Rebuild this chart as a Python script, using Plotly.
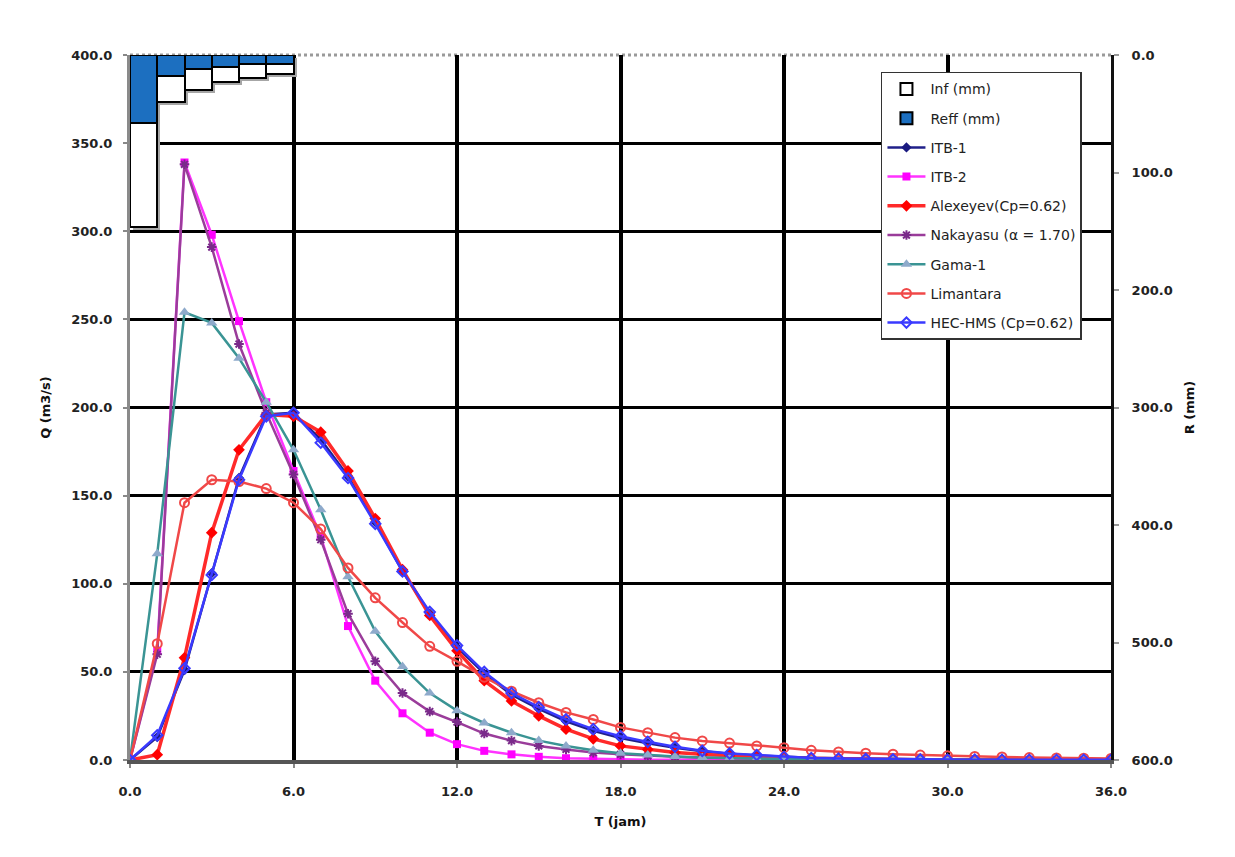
import plotly.graph_objects as go

# ---------------- data ----------------
T = list(range(0, 37))  # hours

itb1 = [0, 13, 51, 106, 160, 196, 197, 182, 161, 135, 107, 83, 64, 49, 37, 29, 22, 16.5, 12.5, 9.5,
        7, 5, 3.5, 2.6, 1.8, 1.3, 1.0, 0.7, 0.5, 0.4, 0.3, 0.2, 0.2, 0.1, 0.1, 0.1, 0.1]
itb2 = [0, 62, 339, 298, 249, 203, 164, 127, 76, 45, 26.5, 15.5, 9, 5.2, 3.2, 1.8, 1.0, 0.6, 0.3, 0.2,
        0.1, 0.1, 0, 0, 0, 0, 0, 0, 0, 0, 0, 0, 0, 0, 0, 0, 0]
alexeyev = [0, 3, 58, 129, 176, 196, 195, 186, 164, 137, 108, 82, 62, 45, 33.5, 25, 17.5, 12, 8, 6,
            4.2, 3.2, 2.3, 1.6, 1.1, 0.8, 0.5, 0.4, 0.3, 0.2, 0.1, 0.1, 0.1, 0, 0, 0, 0]
nakayasu = [0, 60, 338, 291, 236, 197, 162, 125, 83, 56, 38, 27.5, 21.5, 15, 11, 8, 6, 4.2, 3.2, 2.4,
            1.8, 1.3, 1.0, 0.7, 0.5, 0.4, 0.3, 0.2, 0.2, 0.1, 0.1, 0.1, 0.1, 0.1, 0, 0, 0]
gama1 = [0, 117, 254, 248, 228, 203, 176, 142, 104, 73, 53, 38, 28, 21, 15.5, 11, 8, 5.5, 3.8, 2.8,
         2.0, 1.4, 1.0, 0.7, 0.5, 0.4, 0.3, 0.2, 0.1, 0.1, 0.1, 0, 0, 0, 0, 0, 0]
limantara = [0, 66, 146, 159, 158, 154, 146, 131, 109, 92, 78, 64.5, 56, 47, 39, 32.5, 27, 23, 18.5, 15.5,
             12.7, 10.8, 9.6, 8, 7, 5.5, 4.6, 3.9, 3.3, 2.8, 2.4, 2.0, 1.7, 1.4, 1.2, 1.0, 0.9]
hechms = [0, 14, 52, 105, 159, 195, 197, 180, 160, 134, 107, 84, 65, 50, 38, 30, 23, 17.5, 13.5, 10.3,
          7.5, 5.2, 3.7, 2.8, 1.8, 1.1, 0.8, 0.6, 0.4, 0.3, 0.2, 0.2, 0.1, 0.1, 0.1, 0.1, 0.1]

rain_t = [0.5, 1.5, 2.5, 3.5, 4.5, 5.5]
reff = [57.5, 17.5, 11.7, 10.3, 7.5, 7.5]
inf = [89.2, 22.7, 17.9, 12.9, 11.9, 8.5]

x_ticks = [0, 6, 12, 18, 24, 30, 36]

# ---------------- figure ----------------
FONT = "DejaVu Sans, Liberation Sans, Arial, sans-serif"
fig = go.Figure()

total = [a + b for a, b in zip(reff, inf)]
fig.add_trace(go.Bar(x=rain_t, y=total, base=2.5, width=1, offset=-0.39, yaxis="y2",
                     marker=dict(color="#a6a6a6", line=dict(width=0)),
                     showlegend=False, hoverinfo="skip", legendgroup="shadow"))
fig.add_trace(go.Bar(x=rain_t, y=inf, base=reff, width=1, offset=-0.5, yaxis="y2",
                     name="Inf (mm)", legendgroup="inf",
                     marker=dict(color="white", line=dict(color="black", width=2))))
fig.add_trace(go.Bar(x=rain_t, y=reff, base=0, width=1, offset=-0.5, yaxis="y2",
                     name="Reff (mm)", legendgroup="reff",
                     marker=dict(color="#1c6fc0", line=dict(color="black", width=2))))

series = [
    ("ITB-1", itb1, "#20208a", "#1a1a80", "diamond", 8),
    ("ITB-2", itb2, "#ff33ff", "#ff00ff", "square", 8),
    ("Alexeyev(Cp=0.62)", alexeyev, "#ff2a2a", "#ff0000", "diamond", 9),
    ("Nakayasu (α = 1.70)", nakayasu, "#9a3c9a", "#7a2a8a", "asterisk-open", 8),
    ("Gama-1", gama1, "#3a9494", "#8eaacb", "triangle-up", 10),
    ("Limantara", limantara, "#f04848", "#f04848", "circle-open", 9),
    ("HEC-HMS (Cp=0.62)", hechms, "#3a3aff", "#3a3aff", "diamond-open", 8),
]
for name, vals, lc, mc, sym, ms in series:
    lw = 3.5 if name.startswith("Alexeyev") else 2.5
    mk = dict(symbol=sym, size=ms, color=mc)
    if sym.endswith("open"):
        mk["line"] = dict(color=mc, width=2)
    fig.add_trace(go.Scatter(x=T, y=vals, mode="lines+markers", name=name,
                             legendgroup=name, line=dict(color=lc, width=lw), marker=mk))

tickfont = dict(family=FONT, size=13, color="#222", weight="bold")
titlefont = dict(family=FONT, size=13, color="#111", weight="bold")

fig.update_layout(
    width=1235, height=857,
    margin=dict(l=130, r=124, t=55, b=97),
    paper_bgcolor="white", plot_bgcolor="white",
    barmode="overlay", bargap=0,
    xaxis=dict(range=[0, 36], tickvals=x_ticks, tickformat=".1f",
               showgrid=True, gridcolor="black", gridwidth=4, zeroline=False,
               showline=True, linecolor="#555", linewidth=4,
               ticks="outside", ticklen=4, tickcolor="#888", tickwidth=2,
               tickfont=tickfont, ticklabelstandoff=12,
               title=dict(text="T (jam)", font=titlefont, standoff=20)),
    yaxis=dict(range=[0, 400], dtick=50, tickformat=".1f",
               showgrid=True, gridcolor="black", gridwidth=3, zeroline=False,
               showline=True, linecolor="#8a8a8a", linewidth=3,
               ticks="outside", ticklen=4, tickcolor="#888", tickwidth=2,
               tickfont=tickfont, ticklabelstandoff=8,
               title=dict(text="Q (m3/s)", font=titlefont, standoff=18)),
    yaxis2=dict(range=[600, 0], dtick=100, tickformat=".1f", overlaying="y", side="right",
                showgrid=False, zeroline=False,
                showline=True, linecolor="#111", linewidth=3,
                ticks="outside", ticklen=5, tickcolor="#999", tickwidth=2,
                tickfont=tickfont, ticklabelstandoff=10,
                title=dict(text="R (mm)", font=titlefont, standoff=14)),
    legend=dict(x=0.7655, y=0.976, xanchor="left", yanchor="top",
                bgcolor="white", bordercolor="#333", borderwidth=1.5,
                font=dict(family=FONT, size=14, color="#222"),
                traceorder="grouped", tracegroupgap=8, itemwidth=38),
    shapes=[
        dict(type="line", xref="paper", yref="paper", x0=0, x1=1, y0=1, y1=1,
             line=dict(color="white", width=4), layer="between"),
        dict(type="line", xref="paper", yref="paper", x0=0, x1=1, y0=1, y1=1,
             line=dict(color="#9a9a9a", width=3, dash="dot"), layer="between"),
    ],
)

fig.write_html("out.html")
